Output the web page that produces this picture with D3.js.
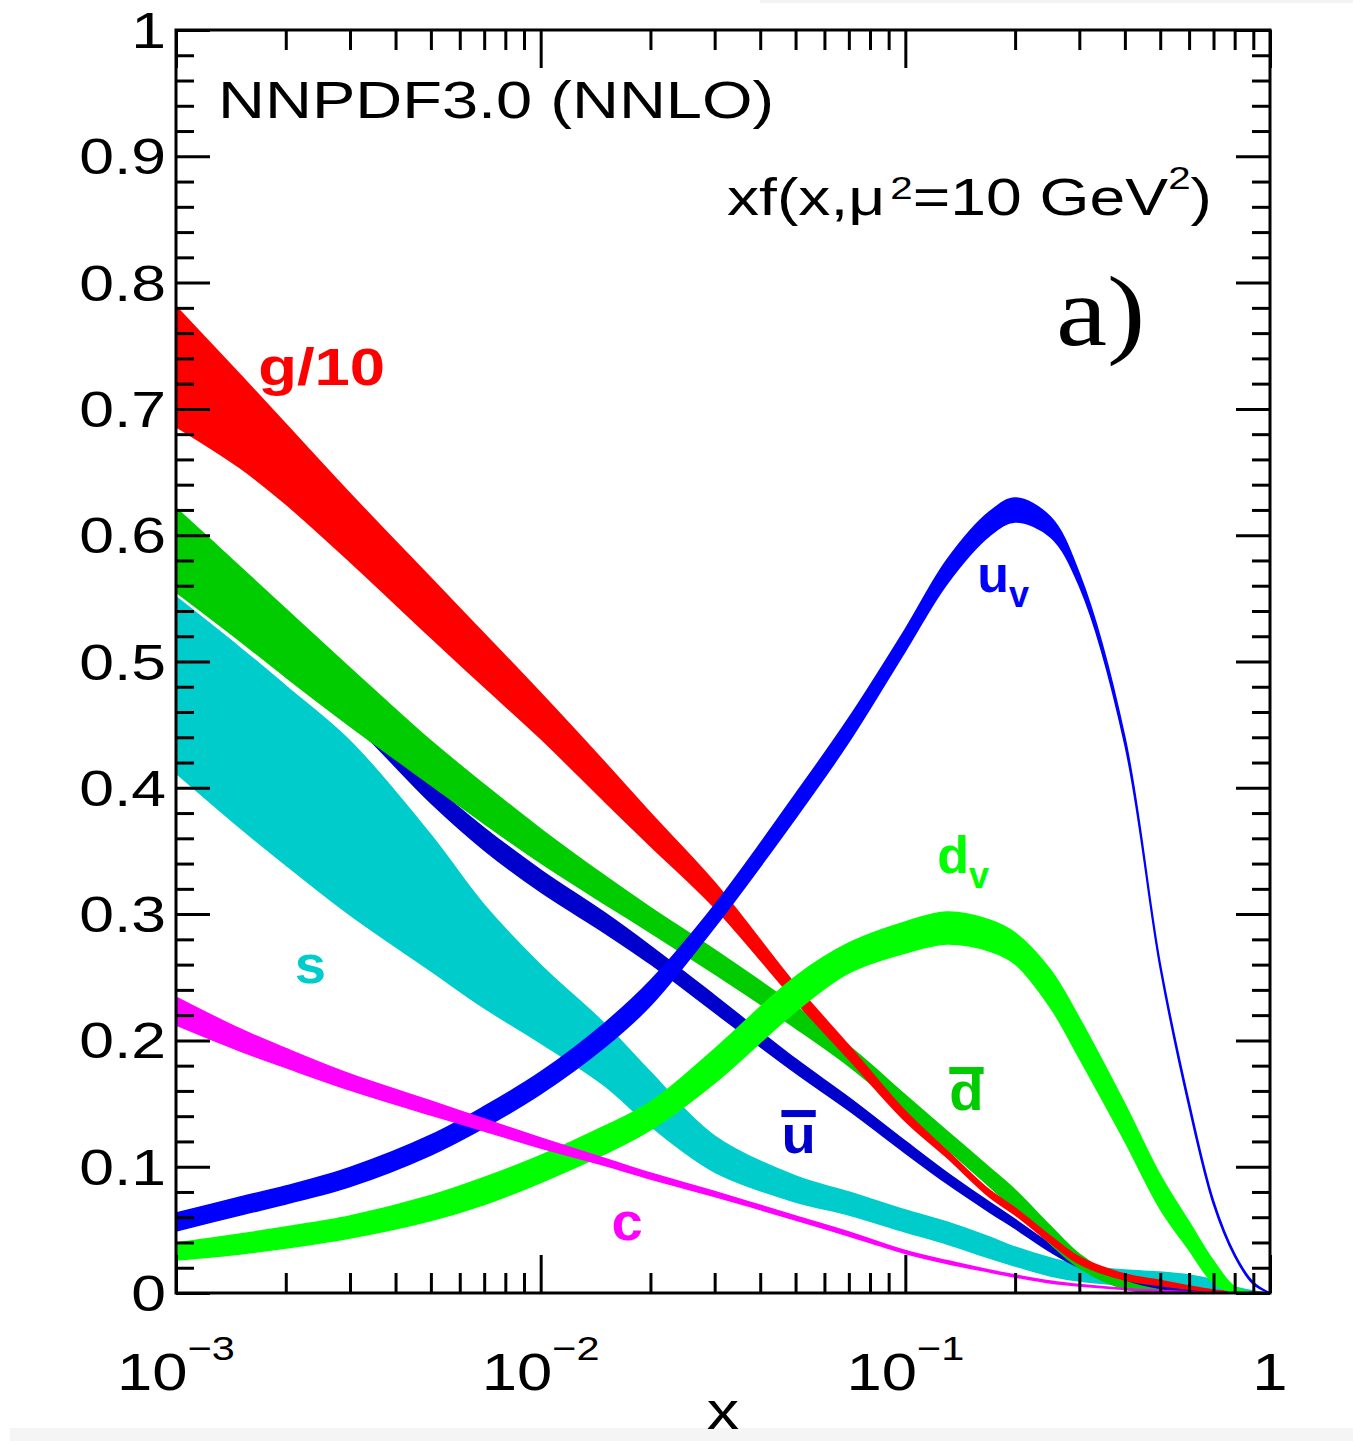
<!DOCTYPE html>
<html>
<head>
<meta charset="utf-8">
<script src="https://cdn.jsdelivr.net/npm/d3@7"></script>
<style>
  body { margin: 0; background: #fff; }
  svg { display: block; font-family: "Liberation Sans", Arial, Helvetica, sans-serif; }
</style>
</head>
<body>
<div id="chart"></div>
<script>

var xGrid = [0.001, 0.0015, 0.002, 0.003, 0.005, 0.007, 0.01, 0.015, 0.02, 0.03, 0.05, 0.07,
             0.1, 0.13, 0.17, 0.2, 0.25, 0.3, 0.4, 0.5, 0.6, 0.7, 0.8, 0.9, 1.0];

// g/10
var gHi = [0.781, 0.727, 0.688, 0.633, 0.566, 0.522, 0.475, 0.420, 0.380, 0.325, 0.244, 0.196,
           0.144, 0.1128, 0.0816, 0.0673, 0.0451, 0.0285, 0.0150, 0.010, 0.0055, 0.0024, 0.001, 0.0005, 0];
var gLo = [0.686, 0.6532, 0.6247, 0.579, 0.519, 0.480, 0.439, 0.389, 0.354, 0.305, 0.231, 0.185,
           0.136, 0.1073, 0.0760, 0.0618, 0.0396, 0.0230, 0.0103, 0.006, 0.003, 0.001, 0, 0, 0];
// dbar
var dbHi = [0.6215, 0.5748, 0.5416, 0.4949, 0.4371, 0.4026, 0.3674, 0.3302, 0.3052, 0.2716, 0.2272, 0.1956,
            0.1568, 0.1283, 0.0994, 0.0816, 0.0530, 0.0309, 0.0095, 0.0024, 0.0005, 0, 0, 0, 0];
var dbLo = [0.5550, 0.5162, 0.4877, 0.4489, 0.4022, 0.3717, 0.3405, 0.3080, 0.2854, 0.2526, 0.2098, 0.1797,
            0.1425, 0.1140, 0.0843, 0.0657, 0.0388, 0.0198, 0.0032, 0, 0, 0, 0, 0, 0];
// ubar
var ubHi = [0.584, 0.542, 0.5099, 0.4687, 0.4038, 0.3682, 0.3349, 0.3009, 0.2747, 0.2355, 0.1853, 0.1548,
            0.1203, 0.0954, 0.0720, 0.0582, 0.0388, 0.0257, 0.0123, 0.0059, 0.0024, 0.0005, 0, 0, 0];
var ubLo = [0.560, 0.520, 0.4941, 0.4529, 0.3880, 0.3507, 0.3175, 0.2850, 0.2605, 0.2221, 0.1742, 0.1445,
            0.1108, 0.0867, 0.0641, 0.0511, 0.0325, 0.0202, 0.0083, 0.0028, 0.0008, 0, 0, 0, 0];
// s
var sHi = [0.5511, 0.5107, 0.4806, 0.4371, 0.3626, 0.3072, 0.2597, 0.2130, 0.1750, 0.1243, 0.0926, 0.0800,
           0.0657, 0.0562, 0.0443, 0.0364, 0.0277, 0.0222, 0.0182, 0.0166, 0.0143, 0.0103, 0.0048, 0.0016, 0];
var sLo = [0.4117, 0.3682, 0.3389, 0.2993, 0.2550, 0.2257, 0.1979, 0.1639, 0.1322, 0.0958, 0.0721, 0.0618,
           0.0483, 0.0388, 0.0277, 0.0214, 0.0135, 0.0095, 0.0063, 0.0055, 0.0040, 0.0024, 0.0008, 0, 0];
// c
var cHi = [0.2343, 0.2090, 0.1936, 0.1734, 0.1520, 0.1378, 0.1227, 0.1065, 0.0950, 0.0804, 0.0610, 0.0483,
           0.0336, 0.0257, 0.0182, 0.0143, 0.0095, 0.0067, 0.0036, 0.002, 0.001, 0.0004, 0, 0, 0];
var cLo = [0.2122, 0.1916, 0.1785, 0.1607, 0.1409, 0.1283, 0.1148, 0.1009, 0.0903, 0.0764, 0.0578, 0.0451,
           0.0313, 0.0234, 0.0166, 0.0127, 0.0079, 0.0055, 0.0028, 0.0012, 0.0005, 0, 0, 0, 0];
// u valence
var uvHi = [0.0633, 0.0760, 0.0847, 0.0994, 0.1251, 0.1477, 0.1750, 0.2138, 0.2474, 0.3072, 0.3951, 0.4553,
            0.5257, 0.5804, 0.6184, 0.6295, 0.6144, 0.5697, 0.440, 0.261, 0.151, 0.073, 0.031, 0.0085, 0];
var uvLo = [0.0491, 0.0618, 0.0705, 0.0843, 0.1093, 0.1310, 0.1576, 0.1948, 0.2276, 0.2898, 0.3761, 0.4363,
            0.5083, 0.5614, 0.5994, 0.6105, 0.5986, 0.5598, 0.434, 0.257, 0.147, 0.070, 0.029, 0.007, 0];
// d valence
var dvHi = [0.0396, 0.0467, 0.0523, 0.0610, 0.0772, 0.0914, 0.1089, 0.1322, 0.1512, 0.1932, 0.2506, 0.2771,
            0.2938, 0.3017, 0.2954, 0.2851, 0.2558, 0.2177, 0.1496, 0.0934, 0.0562, 0.0253, 0.0048, 0, 0];
var dvLo = [0.0261, 0.0309, 0.0356, 0.0435, 0.0574, 0.0701, 0.0875, 0.1101, 0.1291, 0.1663, 0.2229, 0.2534,
            0.2692, 0.2763, 0.2708, 0.2605, 0.2260, 0.1860, 0.1200, 0.0665, 0.0340, 0.0079, 0, 0, 0];

// tick labels
var yTickVals = [0, 0.1, 0.2, 0.3, 0.4, 0.5, 0.6, 0.7, 0.8, 0.9, 1];
var yTickLabels = ["0", "0.1", "0.2", "0.3", "0.4", "0.5", "0.6", "0.7", "0.8", "0.9", "1"];
var xTickVals = [0.001, 0.01, 0.1, 1];
var xTickBase = ["10", "10", "10", "1"];
var xTickExp = ["\u22123", "\u22122", "\u22121", ""];

// draw order matters (later ones sit on top)
var bands = [
    { lo: sLo,  hi: sHi,  color: "#00cccc" },
    { lo: ubLo, hi: ubHi, color: "#0000cc" },
    { lo: dbLo, hi: dbHi, color: "#00cc00" },
    { lo: gLo,  hi: gHi,  color: "#ff0000" },
    { lo: uvLo, hi: uvHi, color: "#0000ff" },
    { lo: dvLo, hi: dvHi, color: "#00ff00" },
    { lo: cLo,  hi: cHi,  color: "#ff00ff" }
];

var width = 1353, height = 1441;
var plot = { left: 176, right: 1270, top: 30, bottom: 1293 };

var svg = d3.select("#chart")
    .append("svg")
    .attr("width", width)
    .attr("height", height);

// screenshot leftovers at the edges
svg.append("rect")
    .attr("x", 10).attr("y", 1428)
    .attr("width", width - 10).attr("height", height - 1428)
    .attr("fill", "#f5f5f5");
svg.append("rect")
    .attr("x", 760).attr("y", 0)
    .attr("width", width - 760).attr("height", 3)
    .attr("fill", "#f3f3f3");

var x = d3.scaleLog().domain([1e-3, 1]).range([plot.left, plot.right]);
var y = d3.scaleLinear().domain([0, 1]).range([plot.bottom, plot.top]);

svg.append("defs").append("clipPath")
    .attr("id", "clip")
    .append("rect")
    .attr("x", plot.left).attr("y", plot.top)
    .attr("width", plot.right - plot.left)
    .attr("height", plot.bottom - plot.top);

var area = d3.area()
    .x(function (d, i) { return x(xGrid[i]); })
    .y0(function (d) { return y(d[0]); })
    .y1(function (d) { return y(d[1]); })
    .curve(d3.curveCatmullRom.alpha(0.5));

svg.append("g")
    .attr("clip-path", "url(#clip)")
    .selectAll("path")
    .data(bands)
    .enter()
    .append("path")
    .attr("d", function (b) { return area(d3.zip(b.lo, b.hi)); })
    .attr("fill", function (b) { return b.color; })
    .attr("stroke", function (b) { return b.color; })
    .attr("stroke-width", 1.5)
    .attr("stroke-linejoin", "round");

//////////
// AXES //
//////////
var yMajor = yTickVals;
var yMinor = d3.range(0, 51).map(function (k) { return k * 0.02; })
    .filter(function (v) { return Math.round(v * 50) % 5 !== 0; });
var xMajor = xTickVals;
var xMinor = [];
[1e-3, 1e-2, 1e-1].forEach(function (dec) {
    for (var k = 2; k <= 9; k++) xMinor.push(k * dec);
});

function ticks(axis, tx, ty) {
    var g = svg.append("g")
        .attr("transform", "translate(" + tx + "," + ty + ")")
        .call(axis.tickSizeOuter(0).tickFormat(""));
    g.select(".domain").remove();
    g.selectAll("line").attr("stroke", "#000").attr("stroke-width", 3);
}

ticks(d3.axisLeft(y).tickValues(yMajor).tickSizeInner(-34), plot.left, 0);
ticks(d3.axisLeft(y).tickValues(yMinor).tickSizeInner(-18), plot.left, 0);
ticks(d3.axisRight(y).tickValues(yMajor).tickSizeInner(-34), plot.right, 0);
ticks(d3.axisRight(y).tickValues(yMinor).tickSizeInner(-18), plot.right, 0);
ticks(d3.axisBottom(x).tickValues(xMajor).tickSizeInner(-38), 0, plot.bottom);
ticks(d3.axisBottom(x).tickValues(xMinor).tickSizeInner(-20), 0, plot.bottom);
ticks(d3.axisTop(x).tickValues(xMajor).tickSizeInner(-38), 0, plot.top);
ticks(d3.axisTop(x).tickValues(xMinor).tickSizeInner(-20), 0, plot.top);

// frame
svg.append("rect")
    .attr("x", plot.left).attr("y", plot.top)
    .attr("width", plot.right - plot.left)
    .attr("height", plot.bottom - plot.top)
    .attr("fill", "none")
    .attr("stroke", "#000")
    .attr("stroke-width", 3);

// the original picture is stretched sideways, so every text gets a scaleX
function putText(px, py, sx, size) {
    return svg.append("g")
        .attr("transform", "translate(" + px + "," + py + ") scale(" + sx + ",1)")
        .append("text")
        .style("font-size", size + "px");
}

// y labels
yTickVals.forEach(function (v, i) {
    putText(166, y(v), 1.25, 50)
        .attr("text-anchor", "end")
        .attr("dy", "0.36em")
        .text(yTickLabels[i]);
});

// x labels with exponents
xTickVals.forEach(function (v, i) {
    var t = putText(x(v), 1390, 1.22, 52).attr("text-anchor", "middle");
    t.append("tspan").text(xTickBase[i]);
    if (xTickExp[i]) t.append("tspan").attr("dy", -30).style("font-size", "34px").text(xTickExp[i]);
});

putText(723, 1429, 1.2, 54).attr("text-anchor", "middle").text("x");

// header texts
putText(218, 118, 1.25, 52).text("NNPDF3.0 (NNLO)");

var hdr = putText(1212, 215, 1.26, 51).attr("text-anchor", "end");
hdr.append("tspan").text("xf(x,");
hdr.append("tspan").text("\u03bc");
hdr.append("tspan").attr("dx", 4).attr("dy", -16).style("font-size", "32px").text("2");
hdr.append("tspan").attr("dy", 16).text("=10 GeV");
hdr.append("tspan").attr("dy", -26).style("font-size", "32px").text("2");
hdr.append("tspan").attr("dy", 26).text(")");

putText(1056, 345, 1.15, 100).style("font-family", "'Liberation Serif', 'Times New Roman', serif").text("a)");

//////////
// BAND LABELS //
//////////
var labels = [
    { main: "g/10", sub: "", bar: false, xv: 0.00168, yv: 0.719, color: "#ff0000", sx: 1.22 },
    { main: "u", sub: "v", bar: false, xv: 0.1574, yv: 0.555, color: "#0000ff", sx: 1.0 },
    { main: "d", sub: "v", bar: false, xv: 0.1224, yv: 0.3325, color: "#00ff00", sx: 1.0 },
    { main: "d", sub: "", bar: true, xv: 0.132, yv: 0.1449, color: "#00cc00", sx: 1.08 },
    { main: "u", sub: "", bar: true, xv: 0.04573, yv: 0.1108, color: "#0000cc", sx: 1.08 },
    { main: "s", sub: "", bar: false, xv: 0.002118, yv: 0.2454, color: "#00cccc", sx: 1.08 },
    { main: "c", sub: "", bar: false, xv: 0.01565, yv: 0.042, color: "#ff00ff", sx: 1.08 }
];

labels.forEach(function (l) {
    var t = putText(x(l.xv), y(l.yv), l.sx, 52)
        .attr("fill", l.color)
        .style("font-weight", "bold");
    t.append("tspan").text(l.main);
    if (l.sub) t.append("tspan").attr("dy", 15).style("font-size", "36px").text(l.sub);
    if (l.bar) {
        var bb = t.node().getBBox();
        d3.select(t.node().parentNode).append("rect")
            .attr("x", bb.x).attr("y", -43)
            .attr("width", bb.width).attr("height", 7)
            .attr("fill", l.color);
    }
});

</script>
</body>
</html>
